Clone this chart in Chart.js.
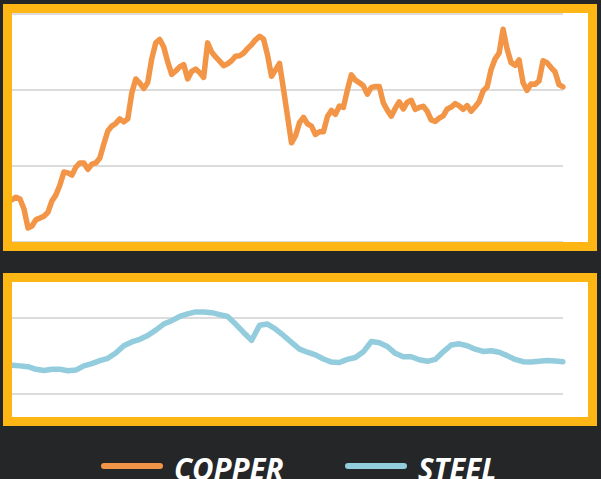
<!DOCTYPE html>
<html>
<head>
<meta charset="utf-8">
<script src="https://cdn.jsdelivr.net/npm/chart.js@4.4.1/dist/chart.umd.min.js"></script>
<style>
  html, body { margin: 0; padding: 0; }
  body { width: 601px; height: 479px; background: #252628; position: relative; overflow: hidden; }
  .panel { position: absolute; left: 3px; width: 594px; box-sizing: border-box; border: 9px solid #FDB614; background: #fff; }
  .panel canvas { display: block; }
  #legend { position: absolute; left: 0; top: 448px; width: 601px; height: 40px; }
  .item { position: absolute; top: 0; height: 40px; }
  .swatch { position: absolute; top: 15px; width: 62px; height: 6px; border-radius: 3px; }
  .label { position: absolute; top: 2px; color: #fff; font-family: "Open Sans", sans-serif;
           font-weight: bold; font-style: italic; font-size: 31px; line-height: 36px; white-space: nowrap;
           transform: scaleX(0.95); transform-origin: left center; }
</style>
</head>
<body>
<div class="panel" style="top:4px;height:247px;"><canvas id="copperChart" width="576" height="229"></canvas></div>
<div class="panel" style="top:273px;height:153px;"><canvas id="steelChart" width="576" height="135"></canvas></div>
<div id="legend"></div>
<script>
// copper price, USD per tonne (weekly)
const copperValues = [
  5110, 5180, 5130, 4870, 4370, 4420, 4590, 4630, 4680, 4780,
  5080, 5240, 5500, 5840, 5820, 5760, 5970, 6080, 6080, 5910,
  6050, 6080, 6210, 6580, 6920, 7050, 7120, 7240, 7160, 7240,
  7920, 8290, 8180, 8040, 8200, 8820, 9240, 9330, 9130, 8740,
  8410, 8500, 8610, 8670, 8290, 8490, 8550, 8460, 8330, 9240,
  9000, 8870, 8760, 8640, 8690, 8770, 8890, 8900, 8970, 9090,
  9190, 9320, 9410, 9340, 8920, 8360, 8530, 8700, 8020, 7310,
  6610, 6790, 7140, 7280, 7110, 7050, 6830, 6900, 6900, 7300,
  7460, 7360, 7580, 7540, 8000, 8400, 8260, 8190, 8110, 7890,
  8070, 8090, 8090, 7660, 7470, 7310, 7520, 7690, 7500, 7680,
  7730, 7490, 7540, 7570, 7440, 7210, 7170, 7260, 7320, 7500,
  7550, 7640, 7580, 7490, 7590, 7440, 7560, 7690, 7980, 8080,
  8540, 8820, 8970, 9600, 9080, 8720, 8650, 8790, 8190, 7990,
  8160, 8150, 8240, 8770, 8720, 8590, 8480, 8140, 8080
];
// steel price, USD per tonne (bi-weekly)
const steelValues = [
  476, 474, 472, 465, 462, 465, 465, 461, 463, 474,
  480, 488, 494, 508, 527, 537, 544, 554, 568, 584,
  593, 604, 611, 616, 616, 614, 609, 604, 584, 562,
  541, 581, 584, 571, 554, 536, 518, 510, 503, 492,
  484, 483, 491, 496, 511, 538, 535, 525, 507, 498,
  498, 490, 486, 491, 511, 529, 532, 527, 518, 512,
  514, 510, 501, 491, 485, 484, 486, 488, 487, 485
];
const seriesNames = ['COPPER', 'STEEL'];
const seriesColors = ['#F29546', '#93CCDD'];
const copperTicks = [4000, 6000, 8000, 10000];
const steelTicks = [400, 600];

const copperLabels = copperValues.map((v, i) => 'W' + (i + 1));
const steelLabels = steelValues.map((v, i) => 'P' + (i + 1));

function makeChart(id, labels, values, color, yMin, yMax, ticks, pad) {
    return new Chart(document.getElementById(id).getContext('2d'), {
        type: 'line',
        data: {
            labels: labels,
            datasets: [{
                label: id,
                data: values,
                borderColor: color,
                borderWidth: 5.5,
                pointRadius: 0,
                tension: 0,
                fill: false,
                borderJoinStyle: 'round',
                borderCapStyle: 'round'
            }]
        },
        options: {
            responsive: false,
            animation: false,
            layout: { padding: pad },
            plugins: { legend: { display: false }, tooltip: { enabled: false } },
            scales: {
                x: { display: false },
                y: {
                    min: yMin,
                    max: yMax,
                    afterBuildTicks: (scale) => { scale.ticks = ticks.map(v => ({ value: v })); },
                    ticks: { display: false },
                    border: { display: false },
                    grid: { color: '#DCDCDC', lineWidth: 2, drawTicks: false }
                }
            }
        }
    });
}

makeChart('copperChart', copperLabels, copperValues, seriesColors[0], 4000, 10026, copperTicks,
    { left: 0, right: 25, top: 0, bottom: 0 });
makeChart('steelChart', steelLabels, steelValues, seriesColors[1], 339.5, 694.7, steelTicks,
    { left: 0, right: 25, top: 0, bottom: 0 });

// legend
const legendPos = [101, 345];
const legend = document.getElementById('legend');
seriesNames.forEach((name, i) => {
    const item = document.createElement('div');
    item.className = 'item';
    item.style.left = legendPos[i] + 'px';
    item.innerHTML = '<span class="swatch" style="background:' + seriesColors[i] + '"></span>' +
        '<span class="label" style="left:73px">' + name + '</span>';
    legend.appendChild(item);
});
</script>
</body>
</html>
